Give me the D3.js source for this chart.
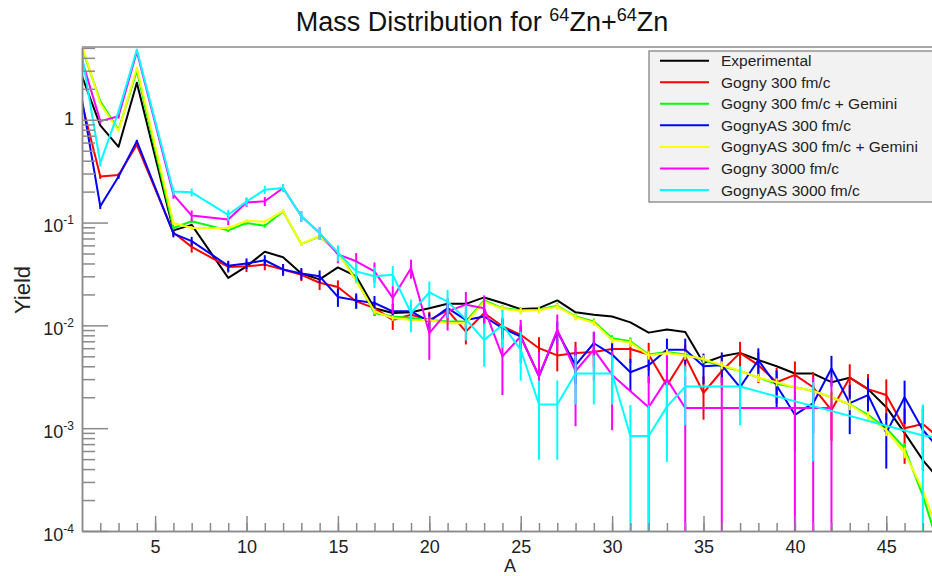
<!DOCTYPE html>
<html>
<head>
<meta charset="utf-8">
<script src="https://cdn.jsdelivr.net/npm/d3@7"></script>
<style>
body { margin: 0; background: #fff; }
svg { display: block; font-family: 'Liberation Sans', Arial, sans-serif; }
</style>
</head>
<body>
<div id="chart"></div>
<script>

// Mass number A of each bin (A = 5 and A = 8 carry no yield)
var massNumbers = [1, 2, 3, 4, 5, 6, 7, 8, 9, 10, 11, 12, 13, 14, 15, 16, 17, 18, 19, 20, 21, 22, 23, 24,
    25, 26, 27, 28, 29, 30, 31, 32, 33, 34, 35, 36, 37, 38, 39, 40, 41, 42, 43, 44, 45, 46, 47, 48]

// Yields, one value per mass number (null = no point)
var experimental = [2.65, 0.88, 0.545, 2.29, null, 0.084, 0.095, null, 0.029, 0.0375,
    0.052, 0.046, 0.032, 0.028, 0.0366, 0.030, 0.0147, 0.0132, 0.0134, 0.0147,
    0.0162, 0.0162, 0.0187, 0.0165, 0.0144, 0.0147, 0.0175, 0.0134, 0.0127, 0.0122,
    0.0107, 0.0085, 0.0091, 0.0086, 0.0043, 0.0050, 0.0054, 0.0046, 0.0040, 0.0034,
    0.0034, 0.0028, 0.0031, 0.0024, 0.0016, 0.0009, 0.00049, 0.00030]

var gogny300 = [1.45, 0.28, 0.29, 0.57, null, 0.080, 0.058, null, 0.037, 0.0375,
    0.039, 0.035, 0.031, 0.026, 0.0236, 0.0171, 0.0147, 0.0113, 0.0127, 0.0113,
    0.0140, 0.0087, 0.0132, 0.0098, 0.0081, 0.0060, 0.0051, 0.0054, 0.0055, 0.0059,
    0.0059, 0.0052, 0.0026, 0.0050, 0.0022, 0.0036, 0.0054, 0.0041, 0.0028, 0.0033,
    0.0025, 0.0015, 0.0031, 0.0024, 0.0021, 0.0010, 0.0011, 0.00077]
var gogny300Err = [0.02, 0.05, 0.05, 0.03, null, 0.08, 0.12, null, 0.12, 0.12,
    0.12, 0.13, 0.13, 0.15, 0.16, 0.15, 0.16, 0.2, 0.18, 0.2,
    0.18, 0.25, 0.2, 0.22, 0.25, 0.28, 0.3, 0.28, 0.28, 0.27,
    0.27, 0.3, 0.4, 0.3, 0.45, 0.35, 0.28, 0.33, 0.38, 0.35,
    0.4, 0.5, 0.35, 0.4, 0.42, 0.55, 0.5, 0.55]

var gogny300Gemini = [5.0, 1.51, 0.80, 3.0, null, 0.0885, 0.103, null, 0.084, 0.099,
    0.093, 0.128, 0.062, 0.073, 0.051, 0.028, 0.0132, 0.0122, 0.0118, 0.0113,
    0.0109, 0.0109, 0.0175, 0.0147, 0.0140, 0.0142, 0.0155, 0.0122, 0.0109, 0.0075,
    0.0070, 0.0052, 0.0055, 0.0052, 0.0046, 0.0040, 0.0036, 0.0031, 0.0027, 0.0025,
    0.0023, 0.0020, 0.0017, 0.00135, 0.0010, 0.00064, 0.00022, 0.00006]
var gogny300GeminiErr = [0.01, 0.01, 0.01, 0.01, null, 0.04, 0.04, null, 0.04, 0.04,
    0.04, 0.04, 0.04, 0.04, 0.04, 0.06, 0.06, 0.06, 0.06, 0.06,
    0.06, 0.06, 0.07, 0.07, 0.07, 0.07, 0.07, 0.07, 0.07, 0.07,
    0.09, 0.09, 0.09, 0.09, 0.09, 0.09, 0.09, 0.09, 0.09, 0.09,
    0.12, 0.12, 0.12, 0.12, 0.12, 0.12, 0.12, 0.12]

var gognyAS300 = [1.57, 0.144, 0.28, 0.62, null, 0.078, 0.066, null, 0.038, 0.040,
    0.043, 0.035, 0.032, 0.030, 0.0189, 0.0175, 0.0165, 0.0137, 0.0137, 0.0109,
    0.0147, 0.0113, 0.0122, 0.0094, 0.0078, 0.0032, 0.0087, 0.0041, 0.0067, 0.0052,
    0.0035, 0.0041, 0.0058, 0.0058, 0.0040, 0.0041, 0.0025, 0.0046, 0.0026, 0.00135,
    0.00175, 0.0038, 0.00175, 0.0021, 0.0009, 0.0020, 0.00096, 0.0006]
var gognyAS300Err = [0.02, 0.06, 0.05, 0.03, null, 0.08, 0.1, null, 0.12, 0.12,
    0.12, 0.13, 0.13, 0.14, 0.2, 0.17, 0.17, 0.18, 0.18, 0.2,
    0.18, 0.2, 0.2, 0.22, 0.24, 0.4, 0.25, 0.35, 0.28, 0.3,
    0.35, 0.33, 0.28, 0.28, 0.33, 0.33, 0.42, 0.3, 0.4, 0.55,
    0.5, 0.33, 0.5, 0.45, 0.55, 0.45, 0.6, 0.7]

var gognyAS300Gemini = [5.3, 1.44, 0.78, 3.2, null, 0.099, 0.0885, null, 0.0885, 0.104,
    0.102, 0.129, 0.062, 0.074, 0.051, 0.027, 0.0137, 0.0118, 0.0113, 0.0113,
    0.0105, 0.0105, 0.0170, 0.0145, 0.0138, 0.0140, 0.0152, 0.0120, 0.0106, 0.0072,
    0.0068, 0.0051, 0.0054, 0.0051, 0.0047, 0.0041, 0.0036, 0.0031, 0.0028, 0.0025,
    0.0023, 0.0020, 0.0017, 0.0013, 0.00095, 0.00058, 0.00025, 0.00008]
var gognyAS300GeminiErr = [0.01, 0.01, 0.01, 0.01, null, 0.04, 0.04, null, 0.04, 0.04,
    0.04, 0.04, 0.04, 0.04, 0.04, 0.06, 0.06, 0.06, 0.06, 0.06,
    0.06, 0.06, 0.07, 0.07, 0.07, 0.07, 0.07, 0.07, 0.07, 0.07,
    0.09, 0.09, 0.09, 0.09, 0.09, 0.09, 0.09, 0.09, 0.09, 0.09,
    0.12, 0.12, 0.12, 0.12, 0.12, 0.12, 0.12, 0.12]

var gogny3000 = [3.8, 0.97, 1.08, 4.6, null, 0.187, 0.117, null, 0.107, 0.157,
    0.161, 0.217, 0.115, 0.079, 0.049, 0.042, 0.0335, 0.0185, 0.036, 0.0084,
    0.0137, 0.0159, 0.0147, 0.0050, 0.0078, 0.0032, 0.0091, 0.0036, 0.0058, 0.0033,
    null, 0.0016, 0.0030, 0.00157, null, 0.00157, null, null, null, 0.00157,
    0.00157, 0.00157, null, null, null, null, null, null]
var gogny3000Err = [0.02, 0.05, 0.05, 0.02, null, 0.09, 0.12, null, 0.12, 0.1,
    0.1, 0.08, 0.12, 0.14, 0.18, 0.2, 0.22, 0.3, 0.21, 0.45,
    0.35, 0.33, 0.33, 0.58, 0.45, 0.71, 0.4, 0.71, 0.5, 0.71,
    null, 1.0, 0.71, 1.0, null, 1.0, null, null, null, 1.0,
    1.0, 1.0, null, null, null, null, null, null]

var gognyAS3000 = [4.2, 0.38, 1.2, 4.8, null, 0.201, 0.197, null, 0.119, 0.160,
    0.209, 0.217, 0.115, 0.079, 0.051, 0.0335, 0.030, 0.031, 0.0132, 0.0209,
    0.0170, 0.0115, 0.0072, 0.0101, 0.0058, 0.0017, 0.0017, 0.0034, 0.0034, 0.0034,
    0.00084, 0.00084, 0.00162, 0.00254, null, null, 0.00254, null, null, null,
    0.00164, null, null, null, null, null, 0.00085, 0.00080]
var gognyAS3000Err = [0.02, 0.08, 0.05, 0.02, null, 0.09, 0.09, null, 0.12, 0.1,
    0.09, 0.09, 0.12, 0.14, 0.18, 0.22, 0.23, 0.22, 0.35, 0.28,
    0.3, 0.38, 0.45, 0.4, 0.5, 0.71, 0.71, 0.5, 0.5, 0.5,
    1.0, 1.0, 0.71, 0.58, null, null, 0.58, null, null, null,
    0.71, null, null, null, null, null, 1.0, 1.0]

// axis ticks
var xMajorTicks = [5, 10, 15, 20, 25, 30, 35, 40, 45]
var yDecades = [1e-4, 1e-3, 1e-2, 1e-1, 1]
var yDecadeExponents = [-4, -3, -2, -1, 0]


var series = [
    {'name': 'Experimental', 'color': '#000000', 'values': experimental, 'errors': null},
    {'name': 'Gogny 300 fm/c', 'color': '#ff0000', 'values': gogny300, 'errors': gogny300Err},
    {'name': 'Gogny 300 fm/c + Gemini', 'color': '#00ff00', 'values': gogny300Gemini, 'errors': gogny300GeminiErr},
    {'name': 'GognyAS 300 fm/c', 'color': '#0000ff', 'values': gognyAS300, 'errors': gognyAS300Err},
    {'name': 'GognyAS 300 fm/c + Gemini', 'color': '#ffff00', 'values': gognyAS300Gemini, 'errors': gognyAS300GeminiErr},
    {'name': 'Gogny 3000 fm/c', 'color': '#ff00ff', 'values': gogny3000, 'errors': gogny3000Err},
    {'name': 'GognyAS 3000 fm/c', 'color': '#00ffff', 'values': gognyAS3000, 'errors': gognyAS3000Err}
]

var config = {
    'width': 932,
    'height': 576,
    'frame': {'left': 82, 'right': 932, 'top': 47, 'bottom': 531}
}
var frame = config.frame

var svg = d3.select('#chart').append('svg')
    .attr('width', config.width)
    .attr('height', config.height)

// scales
var xScale = d3.scaleLinear()
    .domain([1, 47.5])
    .range([frame.left, frame.right])

var yScale = d3.scaleLog()
    .domain([1e-4, 5.1])
    .range([frame.bottom, frame.top])

svg.append('defs').append('clipPath')
    .attr('id', 'plot-clip')
    .append('rect')
    .attr('x', frame.left)
    .attr('y', frame.top)
    .attr('width', frame.right - frame.left)
    .attr('height', frame.bottom - frame.top)

// top frame line
svg.append('line')
    .attr('x1', frame.left).attr('x2', frame.right)
    .attr('y1', frame.top).attr('y2', frame.top)
    .style('stroke', '#a8a8a8')
    .style('stroke-width', 2)

// data
var dataLayer = svg.append('g')
    .attr('clip-path', 'url(#plot-clip)')

series.forEach(function(s) {
    var points = massNumbers.map(function(a, i) {
        return {'a': a, 'y': s.values[i], 'err': s.errors ? s.errors[i] : null}
    }).filter(d => d.y !== null)

    var g = dataLayer.append('g')

    if (s.errors) {
        g.selectAll('line')
            .data(points.filter(d => d.err !== null))
            .enter()
            .append('line')
            .attr('x1', d => xScale(d.a))
            .attr('x2', d => xScale(d.a))
            .attr('y1', d => yScale(d.y * (1 + d.err)))
            .attr('y2', function(d) {
                var lo = d.y * (1 - d.err)
                return lo <= 1e-4 ? frame.bottom + 2 : yScale(lo)
            })
            .style('stroke', s.color)
            .style('stroke-width', 2)
    }

    g.append('path')
        .datum(points)
        .attr('d', d3.line().x(d => xScale(d.a)).y(d => yScale(d.y)))
        .style('fill', 'none')
        .style('stroke', s.color)
        .style('stroke-width', 2)
        .style('stroke-linejoin', 'round')
})

// x axis
var xAxis = svg.append('g')
    .attr('transform', 'translate(0,' + frame.bottom + ')')

xAxis.append('g')
    .call(d3.axisBottom(xScale)
        .tickValues(d3.range(2, 48))
        .tickSize(-8)
        .tickSizeOuter(0)
        .tickFormat(''))

xAxis.append('g')
    .call(d3.axisBottom(xScale)
        .tickValues(xMajorTicks)
        .tickSize(-15)
        .tickSizeOuter(0)
        .tickPadding(9)
        .tickFormat(d3.format('d')))

xAxis.selectAll('.domain, .tick line')
    .style('stroke', '#8a8a8a')
    .style('stroke-width', 1.5)
xAxis.selectAll('.tick text')
    .style('font-family', "'Liberation Sans', Arial, sans-serif")
    .style('font-size', '18px')
    .style('fill', '#222')

// y axis
var yAxis = svg.append('g')
    .attr('transform', 'translate(' + frame.left + ',0)')

yAxis.append('g')
    .call(d3.axisLeft(yScale)
        .tickValues(yScale.ticks().filter(d => yDecades.indexOf(d) < 0))
        .tickSize(-13)
        .tickSizeOuter(0)
        .tickFormat(''))

yAxis.append('g')
    .call(d3.axisLeft(yScale)
        .tickValues(yDecades)
        .tickSize(-26)
        .tickSizeOuter(0)
        .tickFormat(''))

yAxis.selectAll('.domain, .tick line')
    .style('stroke', '#8a8a8a')
    .style('stroke-width', 1.5)

// decade labels, 10 with a superscript exponent
var yLabels = svg.append('g')
    .style('font-size', '18px')
    .style('fill', '#222')
    .attr('text-anchor', 'end')

yDecades.forEach(function(v, i) {
    var exp = yDecadeExponents[i]
    var t = yLabels.append('text')
        .attr('x', frame.left - 8)
    if (exp === 0) {
        t.attr('y', yScale(v) + 5).text('1')
    } else {
        t.attr('y', yScale(v) + 9.5)
        t.append('tspan').text('10')
        t.append('tspan')
            .attr('dy', -8)
            .style('font-size', '12px')
            .text(exp)
    }
})

// axis titles
svg.append('text')
    .attr('x', 510)
    .attr('y', 572)
    .attr('text-anchor', 'middle')
    .style('font-size', '18px')
    .style('fill', '#222')
    .text('A')

svg.append('text')
    .attr('transform', 'translate(30,290) rotate(-90)')
    .attr('text-anchor', 'middle')
    .style('font-size', '22px')
    .style('fill', '#222')
    .text('Yield')

// title
var title = svg.append('text')
    .attr('x', 482)
    .attr('y', 31)
    .attr('text-anchor', 'middle')
    .style('font-size', '27px')
    .style('fill', '#111')

title.append('tspan').text('Mass Distribution for ')
title.append('tspan').attr('dy', -10).style('font-size', '18px').text('64')
title.append('tspan').attr('dy', 10).text('Zn+')
title.append('tspan').attr('dy', -10).style('font-size', '18px').text('64')
title.append('tspan').attr('dy', 10).text('Zn')

// legend
var legend = svg.append('g')
    .attr('transform', 'translate(649,51)')

legend.append('rect')
    .attr('width', 300)
    .attr('height', 151)
    .style('fill', '#f2f2f2')
    .style('stroke', '#7a7a7a')
    .style('stroke-width', 1.2)

var legendRows = legend.selectAll('.legend-row')
    .data(series)
    .enter()
    .append('g')
    .classed('legend-row', true)
    .attr('transform', (d, i) => 'translate(0,' + (9.7 + i * 21.55) + ')')

legendRows.append('line')
    .attr('x1', 11).attr('x2', 60)
    .style('stroke', d => d.color)
    .style('stroke-width', 2)

legendRows.append('text')
    .attr('x', 72)
    .attr('y', 5.5)
    .style('font-size', '15.5px')
    .style('fill', '#222')
    .text(d => d.name)

</script>
</body>
</html>
